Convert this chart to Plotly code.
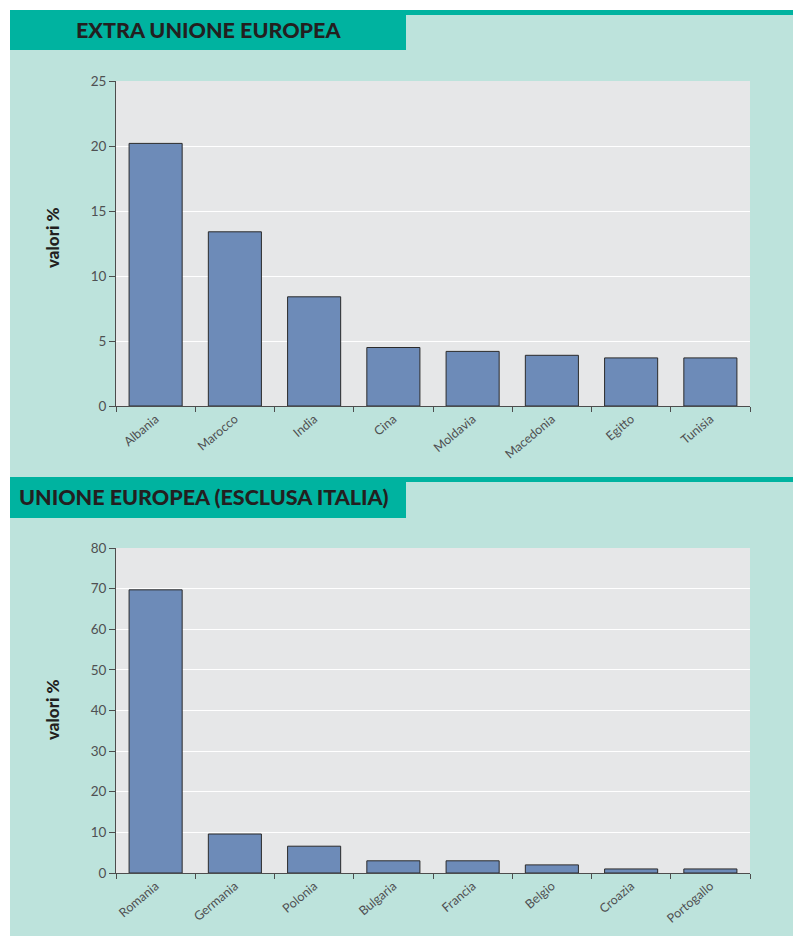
import plotly.graph_objects as go

W, H = 793, 936

# ---- data ----
extra_ue_countries = ["Albania", "Marocco", "India", "Cina", "Moldavia", "Macedonia", "Egitto", "Tunisia"]
extra_ue_values = [20.2, 13.4, 8.4, 4.5, 4.2, 3.9, 3.7, 3.7]

ue_countries = ["Romania", "Germania", "Polonia", "Bulgaria", "Francia", "Belgio", "Croazia", "Portogallo"]
ue_values = [69.7, 9.6, 6.6, 3.0, 3.0, 2.0, 1.0, 1.0]

extra_ticks = [0, 5, 10, 15, 20, 25]
ue_ticks = [0, 10, 20, 30, 40, 50, 60, 70, 80]

title1 = "EXTRA UNIONE EUROPEA"
title2 = "UNIONE EUROPEA (ESCLUSA ITALIA)"
ytitle = "valori %"

# ---- styles ----
TEAL = "#00b3a0"
MINT = "#bde3dc"
PLOTBG = "#e6e7e8"
BAR = "#6d8bb8"
AXIS = "#4d4d4d"
TICKCOL = "#4f5052"
FONT = "Lato"

def px_x(x):
    return x / W

def px_y(y):
    return 1 - y / H

fig = go.Figure()

fig.add_trace(go.Bar(x=extra_ue_countries, y=extra_ue_values, xaxis="x", yaxis="y",
                     marker=dict(color=BAR, line=dict(color="#2b2b2b", width=1)),
                     hoverinfo="x+y"))
fig.add_trace(go.Bar(x=ue_countries, y=ue_values, xaxis="x2", yaxis="y2",
                     marker=dict(color=BAR, line=dict(color="#2b2b2b", width=1)),
                     hoverinfo="x+y"))

xdom = [px_x(116), px_x(750)]
common_x = dict(showline=True, linecolor=AXIS, linewidth=1, ticks="outside", ticklen=5,
                tickcolor=AXIS, tickson="boundaries", tickangle=-40, automargin=False,
                tickfont=dict(family=FONT, size=12.5, color=TICKCOL, weight=400), showgrid=False,
                fixedrange=True)
common_y = dict(showline=True, linecolor=AXIS, linewidth=1, ticks="outside", ticklen=6,
                tickcolor=AXIS, tickfont=dict(family=FONT, size=13.5, color=TICKCOL, weight=400),
                showgrid=True, gridcolor="white", gridwidth=1, zeroline=False, automargin=False,
                fixedrange=True)

fig.update_layout(
    width=W, height=H,
    margin=dict(l=0, r=0, t=0, b=0, pad=0, autoexpand=False),
    paper_bgcolor=MINT,
    plot_bgcolor=PLOTBG,
    showlegend=False,
    bargap=0.33,
    xaxis=dict(domain=xdom, anchor="y", **common_x),
    yaxis=dict(domain=[px_y(406), px_y(81)], anchor="x", range=[0, 25],
               tickvals=extra_ticks, **common_y),
    xaxis2=dict(domain=xdom, anchor="y2", **common_x),
    yaxis2=dict(domain=[px_y(873), px_y(548)], anchor="x2", range=[0, 80],
                tickvals=ue_ticks, **common_y),
)

shapes = [
    # white page margins (top and left)
    dict(type="rect", xref="paper", yref="paper", x0=-0.01, x1=1.01, y0=px_y(10), y1=1.01,
         fillcolor="white", line=dict(width=0), layer="below"),
    dict(type="rect", xref="paper", yref="paper", x0=-0.01, x1=px_x(10), y0=-0.01, y1=1.01,
         fillcolor="white", line=dict(width=0), layer="below"),
    # header 1 stripe & box
    dict(type="rect", xref="paper", yref="paper", x0=px_x(10), x1=1.01, y0=px_y(15), y1=px_y(10),
         fillcolor=TEAL, line=dict(width=0), layer="below"),
    dict(type="rect", xref="paper", yref="paper", x0=px_x(10), x1=px_x(406), y0=px_y(50), y1=px_y(10),
         fillcolor=TEAL, line=dict(width=0), layer="below"),
    # header 2 stripe & box
    dict(type="rect", xref="paper", yref="paper", x0=px_x(10), x1=1.01, y0=px_y(482), y1=px_y(477),
         fillcolor=TEAL, line=dict(width=0), layer="below"),
    dict(type="rect", xref="paper", yref="paper", x0=px_x(10), x1=px_x(406), y0=px_y(518), y1=px_y(477),
         fillcolor=TEAL, line=dict(width=0), layer="below"),
]
fig.update_layout(shapes=shapes)

annotations = [
    dict(text=title1, xref="paper", yref="paper", x=px_x(208), y=px_y(30),
         xanchor="center", yanchor="middle", showarrow=False,
         font=dict(family=FONT, size=21.5, color="#231f20", weight=900)),
    dict(text=title2, xref="paper", yref="paper", x=px_x(17), y=px_y(497),
         xanchor="left", yanchor="middle", showarrow=False,
         font=dict(family=FONT, size=21.5, color="#231f20", weight=900)),
    dict(text=ytitle, xref="paper", yref="paper", x=px_x(52), y=px_y(238),
         xanchor="center", yanchor="middle", showarrow=False, textangle=-90,
         font=dict(family=FONT, size=17, color="#231f20", weight=900)),
    dict(text=ytitle, xref="paper", yref="paper", x=px_x(52), y=px_y(710),
         xanchor="center", yanchor="middle", showarrow=False, textangle=-90,
         font=dict(family=FONT, size=17, color="#231f20", weight=900)),
]
fig.update_layout(annotations=annotations)

fig.write_html("out.html")
